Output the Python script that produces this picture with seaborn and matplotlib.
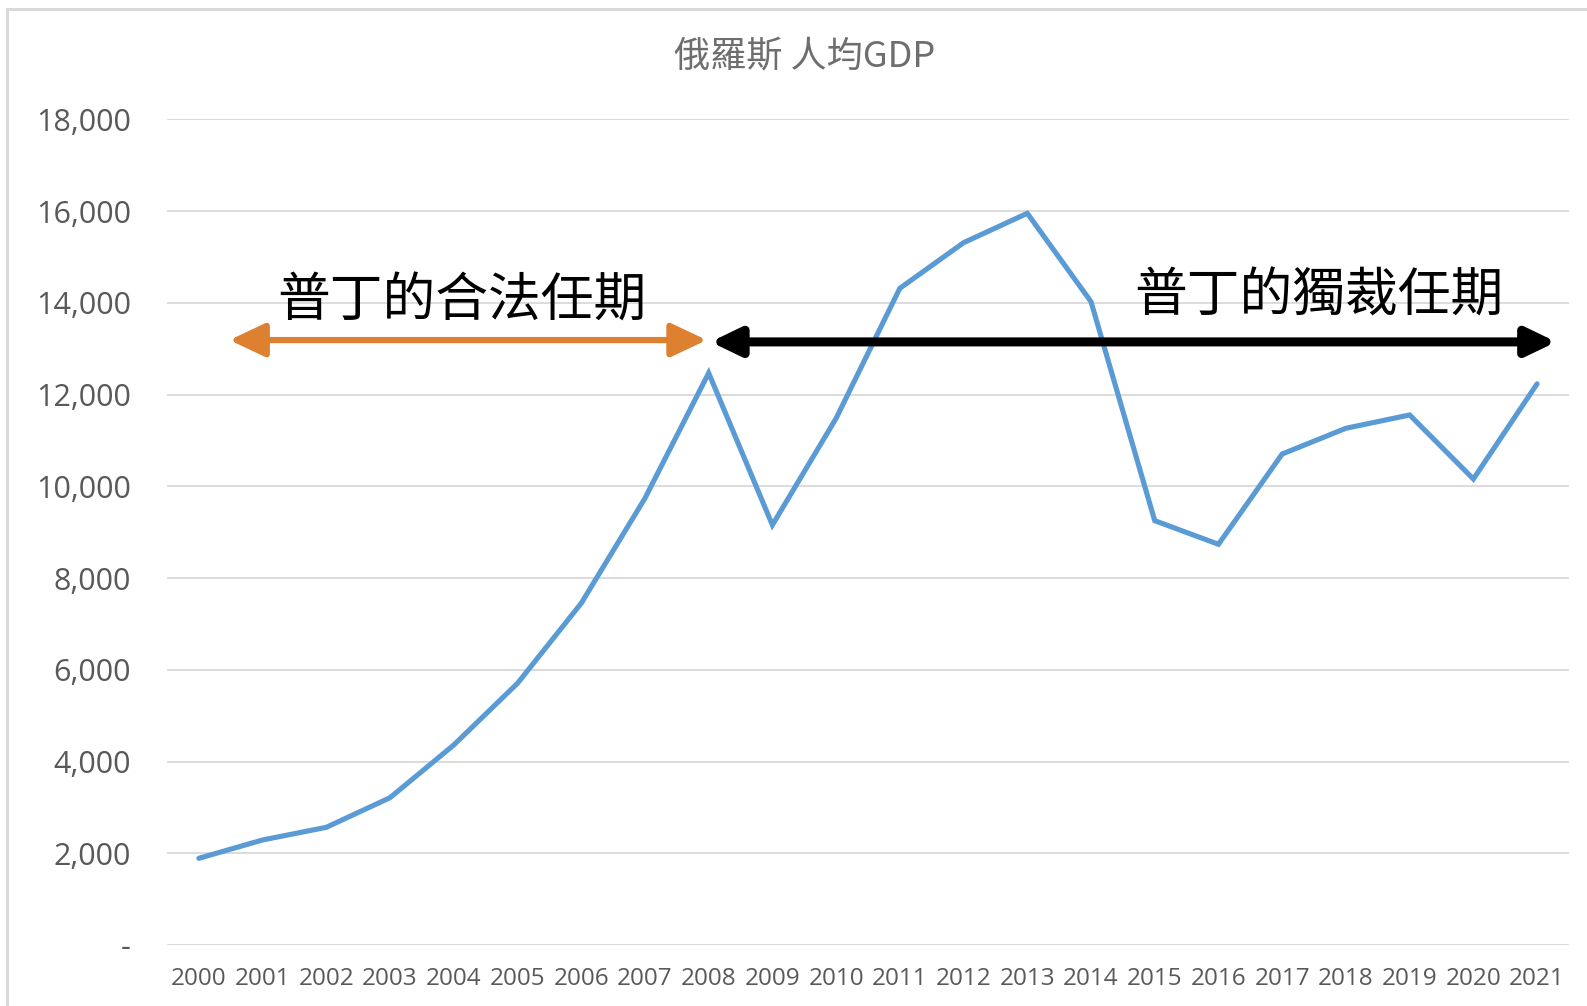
import matplotlib
matplotlib.use("Agg")
import matplotlib.pyplot as plt
from matplotlib.patches import Rectangle
import seaborn as sns
import pandas as pd

# ---- data ----
years = [2000, 2001, 2002, 2003, 2004, 2005, 2006, 2007, 2008, 2009, 2010,
         2011, 2012, 2013, 2014, 2015, 2016, 2017, 2018, 2019, 2020, 2021]
gdp_per_capita = [1890, 2290, 2566, 3212, 4361, 5706, 7451, 9740, 12472, 9158, 11484,
                  14319, 15313, 15954, 14027, 9252, 8737, 10706, 11267, 11557, 10161, 12236]
y_ticks = [0, 2000, 4000, 6000, 8000, 10000, 12000, 14000, 16000, 18000]
y_tick_labels = ["-", "2,000", "4,000", "6,000", "8,000", "10,000", "12,000",
                 "14,000", "16,000", "18,000"]
title_text = "俄羅斯 人均GDP"
label_legal = "普丁的合法任期"
label_dict = "普丁的獨裁任期"

df = pd.DataFrame({"year": years, "gdp": gdp_per_capita})

sns.set_theme(style="white")
plt.rcParams["font.family"] = ["Open Sans", "Noto Sans CJK TC", "DejaVu Sans"]

fig = plt.figure(figsize=(15.87, 10.06), dpi=100)
ax = fig.add_axes([0.10523, 0.06064, 0.8834, 0.8206])

sns.lineplot(data=df, x="year", y="gdp", ax=ax, color="#5B9BD5", linewidth=3.7,
             solid_joinstyle="miter")

ax.set_xlim(1999.5, 2021.5)
ax.set_ylim(0, 18000)
ax.set_xticks(years)
ax.set_xticklabels([str(y) for y in years])
ax.set_yticks(y_ticks)
ax.set_yticklabels(y_tick_labels)
ax.set_xlabel("")
ax.set_ylabel("")
for s in ax.spines.values():
    s.set_visible(False)
ax.grid(axis="y", color="#D9D9D9", linewidth=1.3)
ax.grid(axis="x", visible=False)
ax.set_axisbelow(True)
ax.tick_params(axis="y", length=0, pad=26, labelsize=22, labelcolor="#595959")
ax.tick_params(axis="x", length=0, pad=15.5, labelsize=17.5, labelcolor="#595959")

# title
fig.text(805 / 1587, 1 - 56 / 1006, title_text, ha="center", va="center",
         fontsize=26, color="#6E6E6E",
         family=["Noto Sans CJK TC", "DejaVu Sans"])

# arrows
ax.annotate("", xy=(2000.48, 13190), xytext=(2007.97, 13190),
            arrowprops=dict(arrowstyle="<|-|>,head_length=1.8,head_width=0.85",
                            color="#DD8030", lw=4.5, shrinkA=0, shrinkB=0))
ax.annotate("", xy=(2008.03, 13150), xytext=(2021.3, 13150),
            arrowprops=dict(arrowstyle="<|-|>,head_length=1.45,head_width=0.7",
                            color="#000000", lw=6.5, shrinkA=0, shrinkB=0))

ax.text(2004.13, 14050, label_legal, ha="center", va="center", fontsize=38,
        color="black", family=["Noto Sans CJK TC", "DejaVu Sans"])
ax.text(2017.58, 14160, label_dict, ha="center", va="center", fontsize=38,
        color="black", family=["Noto Sans CJK TC", "DejaVu Sans"])

# outer frame (partially cropped at right/bottom)
fig.patches.append(Rectangle((7 / 1587, -0.05), 1.2, 1 - 9 / 1006 + 0.05,
                             transform=fig.transFigure, fill=False,
                             edgecolor="#D9D9D9", linewidth=2.2))

fig.savefig("out.png", dpi=100)
